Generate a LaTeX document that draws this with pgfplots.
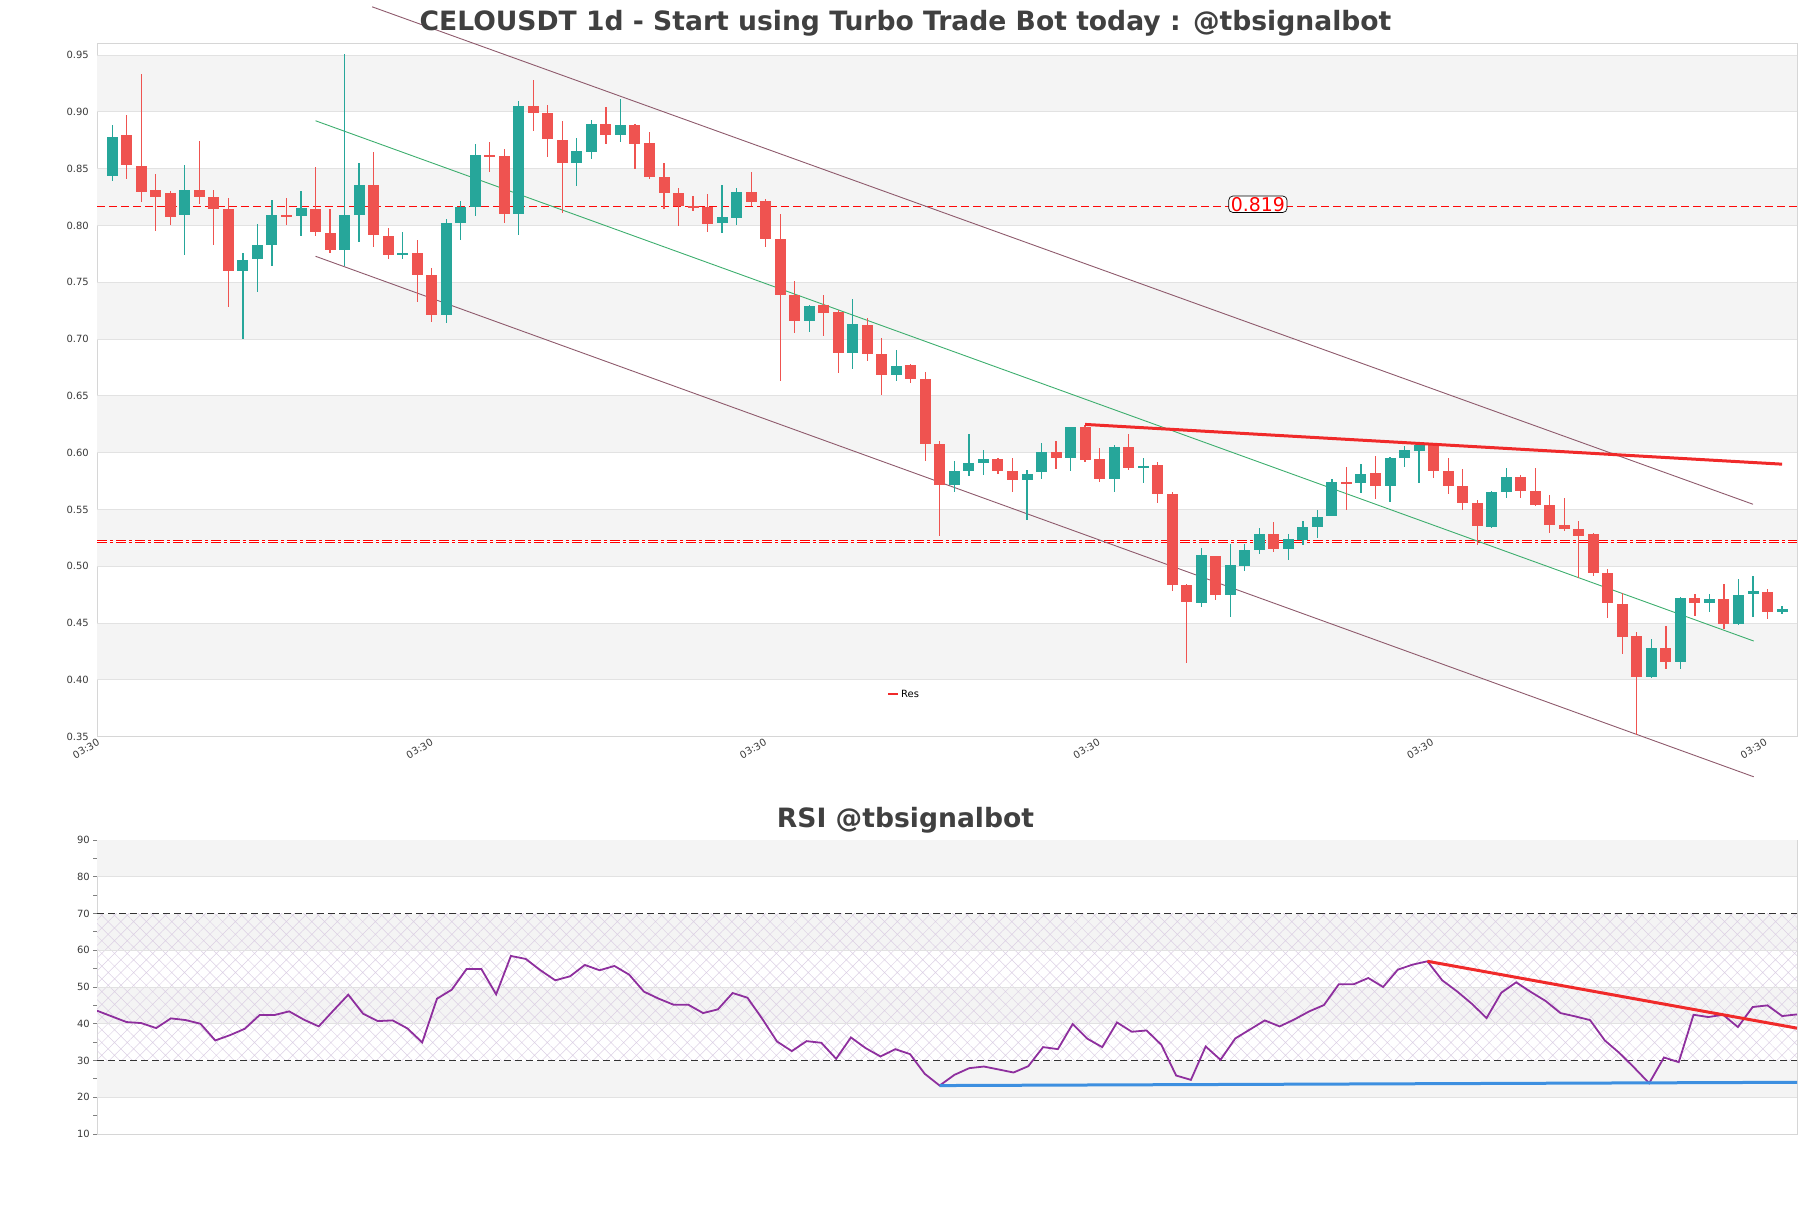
\documentclass[border=0pt]{standalone}
\usepackage{fontspec}
\setmainfont{DejaVu Sans}
\usepackage{pgfplots}
\pgfplotsset{compat=1.18}
\usepackage{pgfplotstable}
\usetikzlibrary{patterns.meta}

\definecolor{upc}{HTML}{26A69A}
\definecolor{dnc}{HTML}{EF5350}
\definecolor{chan}{HTML}{8E5A6C}
\definecolor{midc}{HTML}{3DAE6E}
\definecolor{band}{HTML}{F4F4F4}
\definecolor{gridc}{HTML}{E2E2E2}
\definecolor{axisc}{HTML}{D6D6D6}
\definecolor{tickc}{HTML}{3A3A3A}
\definecolor{titlec}{HTML}{404040}
\definecolor{resc}{HTML}{F02A2A}
\definecolor{rsic}{HTML}{8E2F9E}
\definecolor{supc}{HTML}{3D8FE0}
\definecolor{hatchc}{HTML}{DCD0E4}

% candles: index, open, high, low, close
\pgfplotstableread{
i o h l c
0 0.8436 0.8889 0.8390 0.8781
5 0.8090 0.8535 0.7737 0.8315
9 0.7596 0.7762 0.6997 0.7700
10 0.7704 0.8016 0.7413 0.7824
11 0.7828 0.8223 0.7641 0.8090
13 0.8082 0.8307 0.7907 0.8157
16 0.7783 0.9512 0.7641 0.8090
17 0.8090 0.8548 0.7858 0.8357
20 0.7737 0.7945 0.7704 0.7758
23 0.7209 0.8057 0.7142 0.8018
24 0.8018 0.8215 0.7870 0.8161
25 0.8165 0.8714 0.8086 0.8623
28 0.8099 0.9097 0.7912 0.9055
32 0.8548 0.8772 0.8348 0.8652
33 0.8648 0.8930 0.8589 0.8893
35 0.8797 0.9117 0.8735 0.8889
42 0.8024 0.8357 0.7932 0.8078
43 0.8066 0.8327 0.8003 0.8298
48 0.7155 0.7300 0.7059 0.7288
51 0.6876 0.7350 0.6735 0.7134
54 0.6681 0.6905 0.6635 0.6764
58 0.5716 0.5928 0.5654 0.5841
59 0.5841 0.6161 0.5791 0.5907
60 0.5907 0.6020 0.5803 0.5941
63 0.5758 0.5845 0.5404 0.5812
64 0.5829 0.6086 0.5766 0.6007
66 0.5949 0.6228 0.5837 0.6228
69 0.5766 0.6070 0.5658 0.6053
71 0.5866 0.5957 0.5737 0.5887
75 0.4681 0.5159 0.4639 0.5101
77 0.4743 0.5196 0.4556 0.5013
78 0.5005 0.5196 0.4959 0.5147
79 0.5147 0.5338 0.5105 0.5280
81 0.5155 0.5288 0.5055 0.5238
82 0.5230 0.5396 0.5184 0.5346
83 0.5346 0.5496 0.5251 0.5438
84 0.5446 0.5770 0.5446 0.5741
86 0.5737 0.5903 0.5646 0.5812
88 0.5704 0.5962 0.5562 0.5953
89 0.5949 0.6061 0.5870 0.6020
90 0.6011 0.6091 0.5737 0.6070
95 0.5342 0.5666 0.5334 0.5654
96 0.5654 0.5866 0.5604 0.5783
106 0.4024 0.4357 0.4016 0.4282
108 0.4161 0.4731 0.4095 0.4718
110 0.4681 0.4760 0.4594 0.4714
112 0.4494 0.4885 0.4481 0.4747
113 0.4752 0.4918 0.4556 0.4781
115 0.4602 0.4648 0.4577 0.4623
}\upcandles

\pgfplotstableread{
i o h l c
1 0.8793 0.8972 0.8411 0.8531
2 0.8527 0.9334 0.8203 0.8298
3 0.8315 0.8456 0.7953 0.8253
4 0.8282 0.8307 0.8003 0.8078
6 0.8315 0.8747 0.8190 0.8248
7 0.8253 0.8315 0.7828 0.8149
8 0.8149 0.8244 0.7280 0.7596
12 0.8090 0.8244 0.8003 0.8082
14 0.8149 0.8515 0.7907 0.7941
15 0.7932 0.8149 0.7758 0.7783
18 0.8357 0.8648 0.7808 0.7912
19 0.7912 0.7974 0.7704 0.7737
21 0.7758 0.7870 0.7325 0.7567
22 0.7567 0.7625 0.7151 0.7209
26 0.8619 0.8731 0.8473 0.8611
27 0.8614 0.8673 0.8024 0.8099
29 0.9055 0.9284 0.8831 0.8989
30 0.8989 0.9063 0.8606 0.8760
31 0.8756 0.8922 0.8107 0.8548
34 0.8893 0.9047 0.8714 0.8797
36 0.8889 0.8897 0.8498 0.8718
37 0.8722 0.8826 0.8406 0.8423
38 0.8427 0.8552 0.8149 0.8286
39 0.8282 0.8332 0.7995 0.8174
40 0.8174 0.8257 0.8132 0.8153
41 0.8161 0.8278 0.7945 0.8016
44 0.8298 0.8473 0.8174 0.8211
45 0.8219 0.8232 0.7808 0.7878
46 0.7883 0.8099 0.6627 0.7388
47 0.7392 0.7508 0.7051 0.7155
49 0.7296 0.7392 0.7026 0.7234
50 0.7242 0.7259 0.6706 0.6876
52 0.7126 0.7184 0.6810 0.6868
53 0.6872 0.7009 0.6506 0.6681
55 0.6768 0.6785 0.6610 0.6648
56 0.6652 0.6706 0.5928 0.6074
57 0.6074 0.6103 0.5271 0.5716
61 0.5941 0.5953 0.5812 0.5841
62 0.5841 0.5953 0.5658 0.5758
65 0.6007 0.6103 0.5853 0.5949
67 0.6228 0.6240 0.5916 0.5932
68 0.5941 0.6041 0.5745 0.5766
70 0.6053 0.6165 0.5845 0.5862
72 0.5891 0.5916 0.5554 0.5637
73 0.5637 0.5654 0.4781 0.4835
74 0.4835 0.4847 0.4149 0.4689
76 0.5092 0.5092 0.4702 0.4743
80 0.5280 0.5388 0.5126 0.5155
85 0.5741 0.5874 0.5496 0.5733
87 0.5820 0.5970 0.5596 0.5704
91 0.6070 0.6082 0.5779 0.5837
92 0.5837 0.5957 0.5633 0.5704
93 0.5708 0.5853 0.5500 0.5554
94 0.5558 0.5583 0.5188 0.5354
97 0.5783 0.5804 0.5604 0.5662
98 0.5662 0.5866 0.5529 0.5542
99 0.5542 0.5625 0.5292 0.5367
100 0.5363 0.5604 0.5313 0.5325
101 0.5325 0.5396 0.4897 0.5271
102 0.5284 0.5292 0.4918 0.4939
103 0.4939 0.4980 0.4544 0.4677
104 0.4668 0.4764 0.4232 0.4377
105 0.4390 0.4419 0.3517 0.4024
107 0.4282 0.4473 0.4095 0.4161
109 0.4718 0.4752 0.4564 0.4681
111 0.4714 0.4847 0.4448 0.4494
114 0.4772 0.4801 0.4535 0.4598
}\dncandles

\pgfplotstableread{
i v
0 43.55
1 42.0
2 40.46
3 40.18
4 38.82
5 41.46
6 41.0
7 40.0
8 35.46
9 36.9
10 38.64
11 42.37
12 42.37
13 43.37
14 41.1
15 39.28
16 43.64
17 47.91
18 42.73
19 40.73
20 40.91
21 38.73
22 34.91
23 46.82
24 49.27
25 54.91
26 54.91
27 48.0
28 58.45
29 57.64
30 54.55
31 51.82
32 52.91
33 56.0
34 54.55
35 55.73
36 53.36
37 48.73
38 46.82
39 45.18
40 45.18
41 42.91
42 43.91
43 48.36
44 47.09
45 41.36
46 35.18
47 32.55
48 35.27
49 34.82
50 30.46
51 36.27
52 33.36
53 31.09
54 33.09
55 31.73
56 26.36
57 23.18
58 26.09
59 27.91
60 28.36
61 27.55
62 26.73
63 28.45
64 33.64
65 33.09
66 39.91
67 35.91
68 33.64
69 40.36
70 37.82
71 38.18
72 34.27
73 25.91
74 24.73
75 33.82
76 30.18
77 36.0
78 38.45
79 40.91
80 39.27
81 41.18
82 43.36
83 45.09
84 50.73
85 50.73
86 52.45
87 50.0
88 54.73
89 56.09
90 57.0
91 51.82
92 48.82
93 45.45
94 41.55
95 48.45
96 51.27
97 48.64
98 46.18
99 42.91
100 42.0
101 41.0
102 35.45
103 32.0
104 28.0
105 23.82
106 30.82
107 29.55
108 42.45
109 41.82
110 42.45
111 39.09
112 44.55
113 45.0
114 42.09
115 42.55
}\rsitab

\pgfplotsset{
  candle/.style 2 args={forget plot, draw=none, mark=none, mark size=0pt,
    error bars/.cd, y dir=both, y explicit, error mark=none,
    error bar style={draw=#1, line width=#2, solid}},
}

\begin{document}
\begin{tikzpicture}
\path[use as bounding box] (0bp,0bp) rectangle (1811bp,1208bp);

% ---- price panel ----
\begin{axis}[
  at={(97bp,471.3bp)}, anchor=south west,
  scale only axis, width=1700bp, height=693.4bp,
  xmin=-1.05, xmax=116.03, ymin=0.35, ymax=0.9604,
  clip=false,
  axis line style={draw=axisc, line width=0.8bp},
  major tick length=0pt,
  xtick={-1.05,21.92,44.89,67.86,90.83,113.8},
  xticklabels={03:30,03:30,03:30,03:30,03:30,03:30},
  ytick={0.35,0.40,0.45,0.50,0.55,0.60,0.65,0.70,0.75,0.80,0.85,0.90,0.95},
  yticklabels={0.35,0.40,0.45,0.50,0.55,0.60,0.65,0.70,0.75,0.80,0.85,0.90,0.95},
  /pgf/number format/assume math mode=true,
  xticklabel style={font=\fontsize{10}{12}\selectfont, text=tickc, rotate=30, anchor=north east, inner sep=1bp},
  yticklabel style={font=\fontsize{10}{12}\selectfont, text=tickc, inner sep=0pt, xshift=-8bp},
  legend style={at={(0.4647,0.0613)}, anchor=west, draw=none, fill=none, inner sep=0pt,
    font=\fontsize{10}{12}\selectfont, text=black},
  legend image code/.code={\draw[#1, line width=2bp] (0bp,0bp) -- (10bp,0bp);},
]
% background bands and grid
\foreach \b in {0.40,0.50,0.60,0.70,0.80,0.90}{
  \edef\tmp{\noexpand\fill[band] (axis cs:-1.05,\b) rectangle (axis cs:116.03,\b+0.05);}\tmp
}
\foreach \g in {0.40,0.45,0.50,0.55,0.60,0.65,0.70,0.75,0.80,0.85,0.90,0.95}{
  \edef\tmp{\noexpand\draw[gridc, line width=0.8bp] (axis cs:-1.05,\g) -- (axis cs:116.03,\g);}\tmp
}

% levels
\addplot[forget plot, red!90!dnc, line width=1.2bp, dash pattern=on 8bp off 4bp]
  coordinates {(-1.05,0.8170) (116.03,0.8170)};
\addplot[forget plot, red, line width=0.65bp, double=white, double distance=1.1bp,
  dash pattern=on 10bp off 3bp on 3bp off 3bp]
  coordinates {(-1.05,0.5217) (116.03,0.5217)};

% channel
\addplot[forget plot, chan, line width=0.9bp] coordinates {(17.9,0.9925) (113.0,0.5546)};
\addplot[forget plot, chan, line width=0.9bp] coordinates {(14.0,0.7729) (113.05,0.3147)};
\addplot[forget plot, midc, line width=0.9bp] coordinates {(14.0,0.8922) (113.05,0.4342)};

% wicks
\addplot[candle={upc}{1.2bp}]
  table[x=i, y expr={(\thisrow{h}+\thisrow{l})/2}, y error expr={(\thisrow{h}-\thisrow{l})/2}] {\upcandles};
\addplot[candle={dnc}{1.2bp}]
  table[x=i, y expr={(\thisrow{h}+\thisrow{l})/2}, y error expr={(\thisrow{h}-\thisrow{l})/2}] {\dncandles};
% bodies
\addplot[candle={upc}{11bp}]
  table[x=i, y expr={(\thisrow{o}+\thisrow{c})/2}, y error expr={max((\thisrow{c}-\thisrow{o})/2,0.0006)}] {\upcandles};
\addplot[candle={dnc}{11bp}]
  table[x=i, y expr={(\thisrow{o}+\thisrow{c})/2}, y error expr={max((\thisrow{o}-\thisrow{c})/2,0.0006)}] {\dncandles};

% resistance
\addplot[resc, line width=3bp] coordinates {(67,0.6249) (115,0.5899)};
\addlegendentry{Res}

\node[draw=black, line width=0.7bp, fill=white, rounded corners=4bp, inner xsep=2bp, inner ysep=1bp,
  text=red, font=\fontsize{19}{21}\selectfont] at (axis cs:78.9,0.8187) {0.819};
\end{axis}

% ---- RSI panel ----
\begin{axis}[
  at={(97bp,74bp)}, anchor=south west,
  scale only axis, width=1700bp, height=294bp,
  xmin=0, xmax=115, ymin=10, ymax=90,
  axis line style={draw=axisc, line width=0.8bp},
  xtick=\empty,
  ytick={10,20,30,40,50,60,70,80,90},
  yticklabels={10,20,30,40,50,60,70,80,90},
  minor ytick={15,25,35,45,55,65,75,85},
  ytick pos=left, tick align=outside,
  major tick length=4bp, minor tick length=4bp,
  every tick/.style={draw=gray, line width=0.8bp},
  yticklabel style={font=\fontsize{10}{12}\selectfont, text=tickc, inner sep=0pt, xshift=-3bp},
]
\foreach \b in {20,40,60,80}{
  \edef\tmp{\noexpand\fill[band] (axis cs:0,\b) rectangle (axis cs:115,\b+10);}\tmp
}
\fill[pattern={Hatch[angle=45,distance=9bp,line width=0.5bp]}, pattern color=hatchc]
  (axis cs:0,30) rectangle (axis cs:115,70);
\foreach \g in {20,40,50,60,80}{
  \edef\tmp{\noexpand\draw[gridc, line width=0.8bp] (axis cs:0,\g) -- (axis cs:115,\g);}\tmp
}
\addplot[forget plot, black!80, line width=1.1bp, dash pattern=on 7bp off 4bp]
  coordinates {(0,70) (115,70)};
\addplot[forget plot, black!80, line width=1.1bp, dash pattern=on 7bp off 4bp]
  coordinates {(0,30) (115,30)};

\addplot[rsic, line width=1.8bp, mark=none] table[x=i, y=v] {\rsitab};

\addplot[supc, line width=3bp] coordinates {(57,23.18) (115,24.07)};
\addplot[resc, line width=3bp] coordinates {(90,57.0) (115,38.8)};
\end{axis}

\node[font=\fontsize{26.7}{31}\selectfont\bfseries, text=titlec] at (905.5bp,1185bp)
  {CELOUSDT 1d - Start using Turbo Trade Bot today : @tbsignalbot};
\node[font=\fontsize{26.7}{31}\selectfont\bfseries, text=titlec] at (905.5bp,388bp)
  {RSI @tbsignalbot};
\end{tikzpicture}
\end{document}
